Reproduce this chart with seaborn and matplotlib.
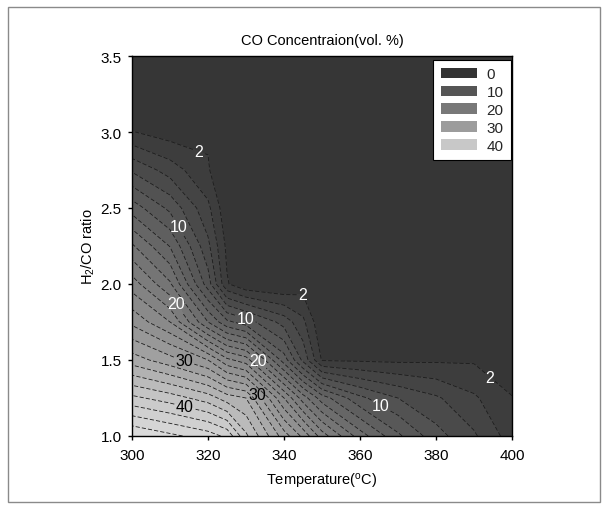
import numpy as np
import matplotlib
matplotlib.use("Agg")
import matplotlib.pyplot as plt
import seaborn as sns
from matplotlib.colors import LinearSegmentedColormap, Normalize
from matplotlib.patches import Patch, Rectangle

# ---- data: CO concentration (vol. %) on a temperature x H2/CO grid ----
temperatures = [300, 310, 320, 325, 330, 340, 345, 350, 360, 370, 380, 390, 400]
ratios = [1.0, 1.25, 1.5, 1.75, 2.0, 2.25, 2.5, 2.75, 3.0, 3.25, 3.5]

co_300 = [48.0, 40.5, 33.0, 27.5, 23.0, 18.3, 13.1, 7.7, 2.1, 0.0, 0.0]
co_310 = [46.5, 39.0, 30.8, 24.0, 18.3, 13.9, 9.5, 5.1, 1.0, 0.0, 0.0]
co_320 = [45.0, 37.0, 28.0, 16.0, 9.0, 6.5, 4.5, 2.2, 1.7, 0.0, 0.0]
co_325 = [43.5, 35.0, 24.5, 12.5, 2.2, 1.5, 0.5, 0.0, 0.0, 0.0, 0.0]
co_330 = [38.4, 34.0, 23.0, 11.0, 0.3, 0.0, 0.0, 0.0, 0.0, 0.0, 0.0]
co_340 = [31.0, 24.0, 13.0, 7.2, 0.0, 0.0, 0.0, 0.0, 0.0, 0.0, 0.0]
co_345 = [27.5, 19.0, 7.5, 4.5, 1.0, 0.0, 0.0, 0.0, 0.0, 0.0, 0.0]
co_350 = [23.0, 15.0, 1.8, 0.2, 0.0, 0.0, 0.0, 0.0, 0.0, 0.0, 0.0]
co_360 = [17.0, 10.5, 1.7, 0.0, 0.0, 0.0, 0.0, 0.0, 0.0, 0.0, 0.0]
co_370 = [12.4, 8.0, 1.6, 0.0, 0.0, 0.0, 0.0, 0.0, 0.0, 0.0, 0.0]
co_380 = [8.8, 6.3, 1.7, 0.0, 0.0, 0.0, 0.0, 0.0, 0.0, 0.0, 0.0]
co_390 = [6.3, 4.3, 1.75, 0.0, 0.0, 0.0, 0.0, 0.0, 0.0, 0.0, 0.0]
co_400 = [3.0, 2.1, 0.5, 0.0, 0.0, 0.0, 0.0, 0.0, 0.0, 0.0, 0.0]

legend_values = [0, 10, 20, 30, 40]
labels_light = [2, 10, 20]
labels_dark = [30, 40]
x_ticks = [300, 320, 340, 360, 380, 400]
y_ticks = [1.0, 1.5, 2.0, 2.5, 3.0, 3.5]

# ---- styling ----
sns.set_theme(style="ticks")
plt.rcParams["font.family"] = ["Liberation Sans", "DejaVu Sans"]
plt.rcParams["mathtext.fontset"] = "custom"
plt.rcParams["mathtext.rm"] = "Liberation Sans"
plt.rcParams["mathtext.it"] = "Liberation Sans:italic"
plt.rcParams["mathtext.bf"] = "Liberation Sans:bold"

columns = [co_300, co_310, co_320, co_325, co_330, co_340, co_345,
           co_350, co_360, co_370, co_380, co_390, co_400]
Z = np.column_stack(columns)
T = np.array(temperatures)
R = np.array(ratios)

cmap = LinearSegmentedColormap.from_list(
    "grays",
    [(0.0, "#333333"), (0.2, "#555555"), (0.4, "#787878"),
     (0.6, "#9c9c9c"), (0.8, "#c8c8c8"), (1.0, "#e2e2e2")])
norm = Normalize(vmin=0, vmax=50)
fill_levels = np.arange(0, 52, 2)
all_line_levels = np.arange(2, 50, 2)
plain_levels = [v for v in all_line_levels if v not in labels_light + labels_dark]

fig = plt.figure(figsize=(6.08, 5.10), dpi=100)
fig.patch.set_facecolor("white")
fig.add_artist(Rectangle((8 / 608, 7 / 510), 592 / 608, 495 / 510,
                         transform=fig.transFigure, fill=False,
                         edgecolor="#8a8a8a", linewidth=1.0))
ax = fig.add_axes([132 / 608, 73 / 510, 380 / 608, 380 / 510])

ax.contourf(T, R, Z, levels=fill_levels, cmap=cmap, norm=norm)
line_kw = dict(colors="#1c1c1c", linewidths=0.6, linestyles=[(0, (5, 2.5))])
ax.contour(T, R, Z, levels=plain_levels, **line_kw)
cs_light = ax.contour(T, R, Z, levels=labels_light, **line_kw)
cs_dark = ax.contour(T, R, Z, levels=labels_dark, **line_kw)

label_pos_light = [(318, 2.9), (347, 1.95), (397, 1.47),
                   (311, 2.36), (330, 1.79), (366, 1.22),
                   (311, 1.86), (333, 1.49)]
label_pos_dark = [(314, 1.52), (333, 1.28), (314, 1.2)]
t1 = ax.clabel(cs_light, manual=label_pos_light, fmt="%d",
               fontsize=11.5, colors="white", inline=True, inline_spacing=2)
t2 = ax.clabel(cs_dark, manual=label_pos_dark, fmt="%d",
               fontsize=11.5, colors="black", inline=True, inline_spacing=2)
for t in list(t1) + list(t2):
    t.set_rotation(0)

ax.set_xlim(300, 400)
ax.set_ylim(1.0, 3.5)
ax.set_xticks(x_ticks)
ax.set_yticks(y_ticks)
ax.set_yticklabels([f"{v:.1f}" for v in y_ticks])
ax.tick_params(axis="both", direction="out", length=3, width=1,
               labelsize=11, colors="black")
ax.tick_params(axis="x", pad=5.5)
ax.tick_params(axis="y", pad=4.5)
for s in ax.spines.values():
    s.set_color("black")
    s.set_linewidth(1.0)

ax.set_title("CO Concentraion(vol. %)", fontsize=10.5, pad=9, color="black")
ax.set_xlabel(r"Temperature($^{\mathrm{o}}$C)", fontsize=10.5, labelpad=6.5,
              color="black")
ax.set_ylabel(r"H$_2$/CO ratio", fontsize=10.5, labelpad=2.5, color="black")

handles = [Patch(facecolor=cmap(norm(v)), edgecolor="none") for v in legend_values]
leg = ax.legend(handles, [str(v) for v in legend_values], loc="upper right",
                bbox_to_anchor=(1.0 + 3 / 380, 1.0), borderaxespad=0.25,
                fontsize=11, frameon=True, fancybox=False, framealpha=1,
                handlelength=2.4, handleheight=0.7, labelspacing=0.25,
                handletextpad=0.6, borderpad=0.5)
leg.get_frame().set_edgecolor("black")
leg.get_frame().set_linewidth(0.8)

fig.savefig("out.png", dpi=100)
